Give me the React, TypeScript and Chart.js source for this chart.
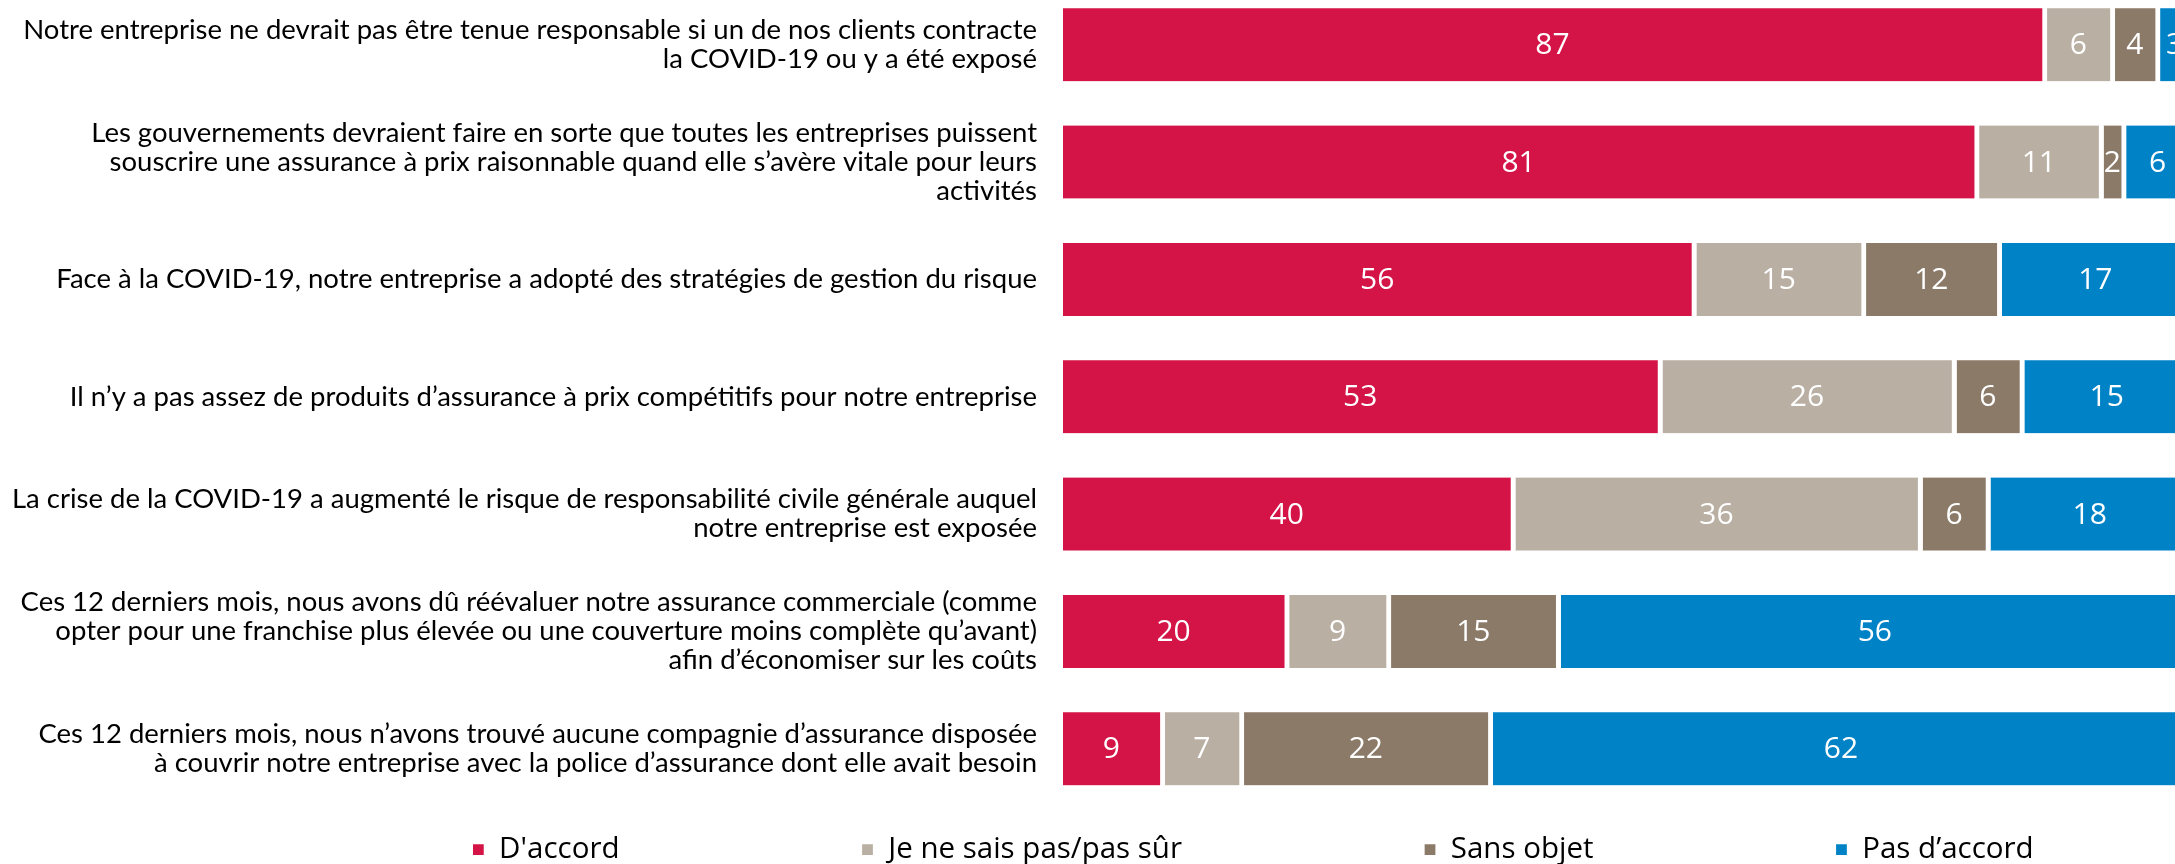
import React, { useEffect, useRef } from 'react';
import { Chart, registerables } from 'chart.js';

Chart.register(...registerables);

// ---------- data ----------
const categories: (string | string[])[] = [
  ['Notre entreprise ne devrait pas être tenue responsable si un de nos clients contracte', 'la COVID-19 ou y a été exposé'],
  ['Les gouvernements devraient faire en sorte que toutes les entreprises puissent', 'souscrire une assurance à prix raisonnable quand elle s’avère vitale pour leurs', 'activités'],
  'Face à la COVID-19, notre entreprise a adopté des stratégies de gestion du risque',
  'Il n’y a pas assez de produits d’assurance à prix compétitifs pour notre entreprise',
  ['La crise de la COVID-19 a augmenté le risque de responsabilité civile générale auquel', 'notre entreprise est exposée'],
  ['Ces 12 derniers mois, nous avons dû réévaluer notre assurance commerciale (comme', 'opter pour une franchise plus élevée ou une couverture moins complète qu’avant)', 'afin d’économiser sur les coûts'],
  ['Ces 12 derniers mois, nous n’avons trouvé aucune compagnie d’assurance disposée', 'à couvrir notre entreprise avec la police d’assurance dont elle avait besoin'],
];
const seriesNames = ["D'accord", 'Je ne sais pas/pas sûr', 'Sans objet', 'Pas d’accord'];
const agree = [87, 81, 56, 53, 40, 20, 9];
const unsure = [6, 11, 15, 26, 36, 9, 7];
const notApplicable = [4, 2, 12, 6, 6, 15, 22];
const disagree = [3, 6, 17, 15, 18, 56, 62];
const seriesColors = ['#D41346', '#B9AFA3', '#8B7A68', '#0082C7'];

// ---------- layout ----------
const CANVAS_W = 2194;
const CANVAS_H = 1163;
const CANVAS_TOP = -74;
const PAD_TOP = 60;
const Y_AXIS_W = 1063;
const GAP = 5;
const LEGEND_FONT = 29.5;
const LEGEND_SPACING = 242;
const LEGEND_BELOW = 42;
const LEGEND_CENTER_X = 1253;

const dataLabelPlugin = {
  id: 'dataLabels',
  afterDatasetsDraw(chart: any) {
    const ctx = chart.ctx;
    ctx.save();
    ctx.font = '30px "Open Sans"';
    ctx.fillStyle = '#ffffff';
    ctx.textAlign = 'center';
    ctx.textBaseline = 'middle';
    chart.data.datasets.forEach((ds: any, i: number) => {
      const meta = chart.getDatasetMeta(i);
      meta.data.forEach((el: any, j: number) => {
        const { x, y, base } = el.getProps(['x', 'y', 'base'], true);
        ctx.fillText(String(ds.data[j]), (x + base - GAP) / 2, y + 1);
      });
    });
    ctx.restore();
  },
};

const legendPlacementPlugin = {
  id: 'legendPlacement',
  afterLayout(chart: any) {
    const lg = chart.legend;
    if (!lg) return;
    const area = chart.chartArea;
    const dy = area.bottom + LEGEND_BELOW - LEGEND_SPACING - LEGEND_FONT / 2 - lg.top;
    lg.top += dy;
    lg.bottom += dy;
    const dx = LEGEND_CENTER_X - (lg.left + lg.right) / 2;
    lg.left += dx;
    lg.right += dx;
  },
};

export default function App() {
  const ref = useRef<HTMLCanvasElement | null>(null);

  useEffect(() => {
    if (!ref.current) return;
    const series = [agree, unsure, notApplicable, disagree];
    const chart = new Chart(ref.current, {
      type: 'bar',
      data: {
        labels: categories,
        datasets: series.map((d, i) => ({
          label: seriesNames[i],
          data: d,
          backgroundColor: seriesColors[i],
          borderColor: '#ffffff',
          borderWidth: { top: 0, right: GAP, bottom: 0, left: 0 },
          borderSkipped: false,
          barThickness: 73,
        })),
      },
      options: {
        indexAxis: 'y',
        responsive: false,
        animation: false,
        events: [],
        layout: { padding: { top: PAD_TOP, left: 0, right: 0, bottom: 0 } },
        scales: {
          x: { stacked: true, min: 0, max: 100, display: false },
          y: {
            stacked: true,
            grid: { display: false, drawTicks: false },
            border: { display: false },
            ticks: {
              padding: 26,
              color: '#000000',
              font: { family: 'Lato', size: 27.5, lineHeight: 1.055 },
            },
            afterFit(scale: any) {
              scale.width = Y_AXIS_W;
            },
          },
        },
        plugins: {
          tooltip: { enabled: false },
          legend: {
            position: 'bottom',
            labels: {
              boxWidth: 12,
              boxHeight: 12,
              padding: LEGEND_SPACING,
              color: '#000000',
              font: { family: 'Open Sans', size: LEGEND_FONT },
            },
          },
        },
      },
      plugins: [dataLabelPlugin, legendPlacementPlugin],
    });
    return () => chart.destroy();
  }, []);

  return (
    <div style={{ position: 'fixed', left: 0, top: 0, width: '2175px', height: '864px', overflow: 'hidden', background: '#ffffff' }}>
      <canvas
        ref={ref}
        width={CANVAS_W}
        height={CANVAS_H}
        style={{ position: 'absolute', left: 0, top: CANVAS_TOP + 'px', display: 'block' }}
      />
    </div>
  );
}
